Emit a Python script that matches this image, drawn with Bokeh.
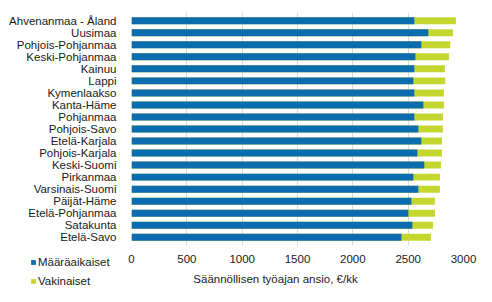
from bokeh.plotting import figure
from bokeh.models import FactorRange, Range1d, Label, Legend, LegendItem, ColumnDataSource, FixedTicker
from bokeh.embed import file_html
from bokeh.resources import INLINE

regions = ["Ahvenanmaa - Åland", "Uusimaa", "Pohjois-Pohjanmaa", "Keski-Pohjanmaa", "Kainuu",
           "Lappi", "Kymenlaakso", "Kanta-Häme", "Pohjanmaa", "Pohjois-Savo", "Etelä-Karjala",
           "Pohjois-Karjala", "Keski-Suomi", "Pirkanmaa", "Varsinais-Suomi", "Päijät-Häme",
           "Etelä-Pohjanmaa", "Satakunta", "Etelä-Savo"]
maaraaikaiset = [2556, 2682, 2619, 2565, 2556, 2547, 2556, 2637, 2556, 2592, 2619,
                 2583, 2646, 2547, 2592, 2529, 2502, 2538, 2439]
vakinaiset = [2931, 2905, 2880, 2868, 2832, 2835, 2823, 2823, 2814, 2814, 2805,
              2805, 2796, 2787, 2787, 2742, 2742, 2724, 2706]
x_ticks = [0, 500, 1000, 1500, 2000, 2500, 3000]
series_names = ["Määräaikaiset", "Vakinaiset"]
x_title = "Säännöllisen työajan ansio, €/kk"

BLUE = "#0b6cb0"
GREEN = "#c5d72f"
FONT = "Liberation Sans"
TXT = "#1a1a1a"

src = ColumnDataSource(dict(region=regions, m=maaraaikaiset, v=vakinaiset))

p = figure(width=492, height=302, frame_width=332, frame_height=233,
           output_backend="svg", toolbar_location=None,
           y_range=FactorRange(factors=list(reversed(regions)), range_padding=0.0193),
           x_range=Range1d(0, 3000),
           min_border_left=131, min_border_right=29, min_border_top=12, min_border_bottom=57)

r_v = p.hbar(y="region", left=0, right="v", height=0.58, source=src, fill_color=GREEN, line_color=None)
r_m = p.hbar(y="region", left=0, right="m", height=0.58, source=src, fill_color=BLUE, line_color=None)

p.outline_line_color = None
p.ygrid.grid_line_color = None
p.xgrid.grid_line_color = "#d9d9d9"
p.xaxis.ticker = FixedTicker(ticks=x_ticks)
for ax in (p.xaxis[0], p.yaxis[0]):
    ax.axis_line_color = None
    ax.major_tick_line_color = None
    ax.minor_tick_line_color = None
    ax.major_label_text_font = FONT
    ax.major_label_text_font_size = "11.5px"
    ax.major_label_text_color = TXT
p.yaxis.major_label_standoff = 9
p.xaxis.major_label_standoff = 3

# axis title: label in the slot under the x axis
title = Label(x=275 - 131, y=-1.5, x_units="screen", y_units="screen", text=x_title,
              text_align="center", text_baseline="middle", text_font=FONT,
              text_font_size="11.5px", text_color=TXT)
p.add_layout(title, "below")

# legend: kept in the right-hand panel (starts at frame right, spans frame height)
legend = Legend(items=[LegendItem(label=series_names[0], renderers=[r_m]),
                       LegendItem(label=series_names[1], renderers=[r_v])],
                location=(30 - 463, -45), orientation="vertical",
                glyph_width=6, glyph_height=6, label_height=19, spacing=0,
                padding=0, margin=0, label_standoff=2,
                border_line_color=None, background_fill_alpha=0,
                label_text_font=FONT, label_text_font_size="11.5px", label_text_color=TXT)
p.add_layout(legend, "right")

open("out.html", "w").write(file_html(p, INLINE))
